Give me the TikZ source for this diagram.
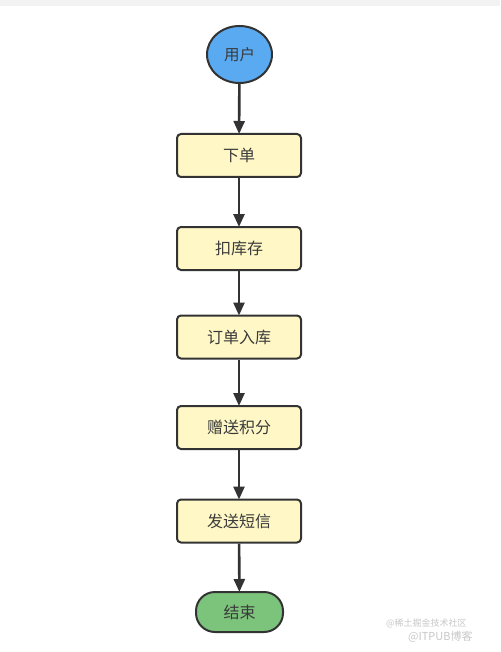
\documentclass[tikz,border=0pt]{standalone}
\usepackage{fontspec}
\newfontfamily\cjk{Noto Sans CJK SC}
\usetikzlibrary{arrows.meta,shapes.geometric}
\definecolor{edge}{HTML}{333333}
\definecolor{txt}{HTML}{3A3A3A}
\definecolor{startblue}{HTML}{5AAAF2}
\definecolor{boxyellow}{HTML}{FFF8C6}
\definecolor{endgreen}{HTML}{7CC47C}
\definecolor{band}{HTML}{F2F2F2}
\definecolor{wm}{HTML}{C8C8C8}
\tikzset{
  stepbox/.style={draw=edge, line width=2pt, fill=boxyellow, rounded corners=4pt,
    minimum width=124pt, minimum height=43pt, inner sep=0pt, font=\cjk\fontsize{16}{16}\selectfont, text=txt},
  startnode/.style={draw=edge, line width=2pt, fill=startblue, ellipse,
    minimum width=65pt, minimum height=57pt, inner sep=0pt, font=\cjk\fontsize{15.5}{15.5}\selectfont, text=txt},
  endnode/.style={draw=edge, line width=2pt, fill=endgreen, rounded corners=19pt,
    minimum width=87pt, minimum height=40pt, inner sep=0pt, font=\cjk\fontsize{16}{16}\selectfont, text=txt},
  flow/.style={draw=edge, line width=2.6pt, -{Triangle[length=13pt,width=11pt]}, shorten >=-1pt},
  watermark/.style={font=\cjk\fontsize{11}{11}\selectfont, text=wm, inner sep=0pt}
}
\begin{document}
\begin{tikzpicture}[x=1pt,y=-1pt]
\useasboundingbox (0,0) rectangle (500,652);
\fill[white] (0,0) rectangle (500,652);
\fill[band] (0,0) rectangle (500,6);
\node[startnode] (user) at (239.5,54.5) {用户};
\node[stepbox] (order) at (239,155.5) {下单};
\node[stepbox] (stock) at (239,248.5) {扣库存};
\node[stepbox] (save) at (239,337) {订单入库};
\node[stepbox] (points) at (239,427.5) {赠送积分};
\node[stepbox] (sms) at (239,521) {发送短信};
\node[endnode] (end) at (239.5,612) {结束};
\draw[flow] (user) -- (order);
\draw[flow] (order) -- (stock);
\draw[flow] (stock) -- (save);
\draw[flow] (save) -- (points);
\draw[flow] (points) -- (sms);
\draw[flow] (sms) -- (end);
\node[watermark, font=\cjk\fontsize{9}{9}\selectfont, anchor=west] (wm1) at (386,623) {@稀土掘金技术社区};
\node[watermark, anchor=west] (wm2) at (408,637) {@ITPUB博客};
\end{tikzpicture}
\end{document}
